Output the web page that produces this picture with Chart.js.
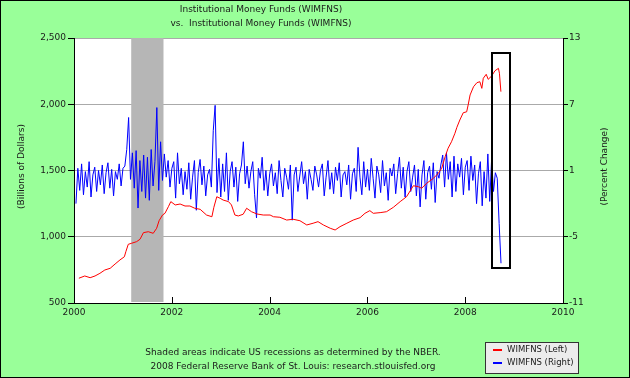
<!DOCTYPE html>
<html>
<head>
<meta charset="utf-8">
<script src="https://cdn.jsdelivr.net/npm/chart.js@4/dist/chart.umd.min.js"></script>
<style>
  html, body { margin: 0; padding: 0; background: #99ff99; }
  canvas { display: block; }
</style>
</head>
<body>
<canvas id="chart" width="630" height="378"></canvas>
<script>
// level of institutional money funds, billions of dollars (left axis)
const redYears = [2000.10, 2000.22, 2000.33, 2000.43, 2000.53, 2000.63, 2000.74, 2000.84, 2000.94,
  2001.03, 2001.06, 2001.11, 2001.18, 2001.28, 2001.35, 2001.42, 2001.52, 2001.62, 2001.69, 2001.74,
  2001.81, 2001.86, 2001.93, 2001.98, 2002.07, 2002.17, 2002.27, 2002.37, 2002.47, 2002.58, 2002.71,
  2002.82, 2002.86, 2002.92, 2002.99, 2003.05, 2003.16, 2003.22, 2003.29, 2003.36, 2003.46, 2003.53,
  2003.63, 2003.74, 2003.87, 2004.01, 2004.08, 2004.21, 2004.35, 2004.48, 2004.62, 2004.76, 2004.89,
  2004.99, 2005.10, 2005.24, 2005.34, 2005.44, 2005.58, 2005.71, 2005.85, 2005.95, 2006.05, 2006.12,
  2006.26, 2006.39, 2006.53, 2006.67, 2006.80, 2006.94, 2007.04, 2007.11, 2007.21, 2007.35, 2007.45,
  2007.52, 2007.59, 2007.65, 2007.72, 2007.79, 2007.83, 2007.89, 2007.96, 2008.03, 2008.06, 2008.10,
  2008.17, 2008.24, 2008.30, 2008.34, 2008.37, 2008.43, 2008.47, 2008.54, 2008.61, 2008.68, 2008.70,
  2008.73];
const redValues = [687, 704, 691, 704, 724, 749, 762, 794, 825,
  849, 887, 943, 951, 963, 981, 1031, 1038, 1026, 1064, 1121,
  1164, 1177, 1227, 1265, 1240, 1247, 1232, 1232, 1215, 1207, 1164,
  1151, 1222, 1302, 1290, 1277, 1265, 1240, 1164, 1157, 1170, 1215,
  1189, 1172, 1164, 1164, 1151, 1147, 1126, 1132, 1121, 1089, 1102,
  1114, 1089, 1064, 1051, 1076, 1102, 1126, 1144, 1177, 1197, 1177,
  1182, 1189, 1222, 1265, 1302, 1385, 1378, 1366, 1403, 1441, 1479,
  1517, 1604, 1668, 1717, 1781, 1826, 1881, 1936, 1943, 1994, 2070,
  2132, 2163, 2170, 2120, 2196, 2226, 2188, 2213, 2253, 2271, 2234,
  2095];

// percent change (right axis), one value every two weeks from blueStart
const blueStart = 2000.04;
const blueStep = 1 / 26;
const blueValues = [
  -2.0, 1.2, -0.8, 1.6, -1.2, 0.9, -0.5, 1.8, -1.4, 0.6, 1.3, -0.9, 1.0,
  -0.3, 1.5, -1.1, 0.8, 1.7, -0.6, 1.1, -1.3, 0.9, 0.2, 1.6, -0.4, 1.2,
  1.4, 2.9, 5.8, 0.2, 2.6, -0.6, 2.8, -2.4, 1.9, -0.9, 2.4, -1.5, 2.2,
  -1.7, 2.9, -0.4, 1.8, 6.7, -0.8, 3.6, 0.1, 2.5, 0.4, 1.9, -0.5, 1.2,
  1.8, -1.5, 2.6, -0.2, 1.2, -1.2, 0.9, -0.7, 1.7, -1.6, 0.4, 1.9, -2.6,
  0.8, 2.0, -0.3, 1.4, -1.3, 0.6, 1.1, -0.5, 4.6, 6.9, -1.0, 2.1, -1.4,
  1.6, -0.9, 2.6, -1.7, 0.9, 1.8, -0.5, 1.3, -1.8, 0.7, 1.5, 3.6, -0.2,
  1.4, -0.6, 0.9, 1.8, -1.2, -3.3, 1.2, 0.3, 2.2, -0.8, 1.0, -1.3, 0.7,
  1.6, -0.4, 0.8, -1.1, 1.9, 0.1, -1.4, 1.2, 0.4, -0.7, 1.5, -3.5, 0.6,
  1.3, -0.9, 0.5, 1.8, -0.2, 0.9, -1.6, 1.1, 0.2, -0.8, 1.4, 0.6, -0.5,
  1.0, 1.6, -1.3, 0.4, 1.9, -0.7, 0.8, -1.1, 1.3, 0.1, 1.7, -1.4, 0.6,
  0.9, -0.3, 1.5, -1.6, 0.7, 1.2, -0.9, 3.1, 0.4, -1.2, 1.8, -0.5, 1.1,
  -0.8, 2.1, 0.3, -1.5, 1.4, 0.6, -1.0, 1.9, -0.4, 0.8, -1.7, 1.2, 0.5,
  1.6, -1.1, 0.7, 2.2, -0.6, 1.3, -1.4, 0.9, 1.8, -0.9, 0.4, 1.5, -1.3,
  1.1, -2.3, 0.6, 1.9, -1.6, 0.8, 1.4, -0.7, 1.7, -1.9, 0.9, 0.3, 1.5,
  2.4, -0.5, 2.6, 0.2, 1.8, -1.4, 2.3, -0.9, 1.6, 0.4, 2.1, -1.2, 1.3,
  1.9, -0.8, 2.3, 0.1, 1.5, -2.0, 0.7, 1.8, -2.2, 0.9, -1.5, 2.5, -1.8,
  2.0, -0.9, 0.8, 0.3, -3.8, -7.4
];

const xTicks = [2000, 2002, 2004, 2006, 2008, 2010];
const leftTicks = [500, 1000, 1500, 2000, 2500];
const rightTicks = [-11, -5, 1, 7, 13];

const recession = [2001.17, 2001.83];
// highlighted box (x in years, y in left-axis units)
const boxX = [2008.555, 2008.92];
const boxY = [764, 2385];

const titleLines = ['Institutional Money Funds (WIMFNS)', 'vs.  Institutional Money Funds (WIMFNS)'];
const footerLines = ['Shaded areas indicate US recessions as determined by the NBER.',
  '2008 Federal Reserve Bank of St. Louis: research.stlouisfed.org'];
const leftTitle = '(Billions of Dollars)';
const rightTitle = '(Percent Change)';
const legendLabels = ['WIMFNS (Left)', 'WIMFNS (Right)'];

const FONT = '9px "DejaVu Sans"';
const TEXT = '#1a1a1a';

const redPoints = redYears.map((x, i) => ({ x: x, y: redValues[i] }));
const bluePoints = blueValues.map((v, i) => ({ x: blueStart + i * blueStep, y: v }));

const fredDecor = {
  id: 'fredDecor',
  beforeDraw(chart) {
    const { ctx, chartArea: a } = chart;
    ctx.save();
    ctx.fillStyle = '#99ff99';
    ctx.fillRect(0, 0, chart.width, chart.height);
    ctx.fillStyle = '#ffffff';
    ctx.fillRect(a.left, a.top, a.right - a.left, a.bottom - a.top);
    ctx.restore();
  },
  beforeDatasetsDraw(chart) {
    const { ctx, chartArea: a, scales } = chart;
    const x0 = scales.x.getPixelForValue(recession[0]);
    const x1 = scales.x.getPixelForValue(recession[1]);
    ctx.save();
    ctx.fillStyle = '#b6b6b6';
    ctx.fillRect(x0, a.top, x1 - x0, a.bottom - a.top - 1);
    // inward ticks on the date axis
    ctx.strokeStyle = '#000';
    ctx.lineWidth = 1;
    xTicks.slice(1, -1).forEach(v => {
      const px = Math.round(scales.x.getPixelForValue(v)) + 0.5;
      ctx.beginPath();
      ctx.moveTo(px, a.bottom);
      ctx.lineTo(px, a.bottom - 6);
      ctx.stroke();
    });
    ctx.restore();
  },
  afterDatasetsDraw(chart) {
    const { ctx, scales } = chart;
    const bx0 = scales.x.getPixelForValue(boxX[0]);
    const bx1 = scales.x.getPixelForValue(boxX[1]);
    const by0 = scales.y.getPixelForValue(boxY[1]);
    const by1 = scales.y.getPixelForValue(boxY[0]);
    ctx.save();
    ctx.strokeStyle = '#000';
    ctx.lineWidth = 2;
    ctx.strokeRect(Math.round(bx0), Math.round(by0), Math.round(bx1 - bx0), Math.round(by1 - by0));
    ctx.restore();
  },
  afterDraw(chart) {
    const { ctx, chartArea: a } = chart;
    ctx.save();
    ctx.font = FONT;
    ctx.fillStyle = TEXT;
    ctx.textAlign = 'center';
    ctx.textBaseline = 'middle';
    ctx.fillText(titleLines[0], 261, 10);
    ctx.fillText(titleLines[1], 261, 24);
    ctx.fillText(footerLines[0], 293, 353);
    ctx.fillText(footerLines[1], 293, 367);

    const midY = (a.top + a.bottom) / 2 - 4;
    ctx.save();
    ctx.translate(22, midY);
    ctx.rotate(-Math.PI / 2);
    ctx.fillText(leftTitle, 0, 0);
    ctx.restore();
    ctx.save();
    ctx.translate(605, midY);
    ctx.rotate(-Math.PI / 2);
    ctx.fillText(rightTitle, 0, 0);
    ctx.restore();

    // legend box
    ctx.fillStyle = '#ececec';
    ctx.fillRect(485, 342, 93, 31);
    ctx.strokeStyle = '#333';
    ctx.lineWidth = 1;
    ctx.strokeRect(485.5, 342.5, 93, 31);
    const colors = ['#ff0000', '#0000ff'];
    ctx.font = '8.5px "DejaVu Sans"';
    ctx.textAlign = 'left';
    legendLabels.forEach((lab, i) => {
      const ly = 350 + i * 13;
      ctx.strokeStyle = colors[i];
      ctx.lineWidth = 2;
      ctx.beginPath();
      ctx.moveTo(493, ly);
      ctx.lineTo(502, ly);
      ctx.stroke();
      ctx.fillStyle = TEXT;
      ctx.fillText(lab, 507, ly);
    });

    // outer frame
    ctx.strokeStyle = '#000';
    ctx.lineWidth = 1;
    ctx.strokeRect(0.5, 0.5, chart.width - 1, chart.height - 1);
    ctx.restore();
  }
};

new Chart(document.getElementById('chart'), {
  type: 'line',
  data: {
    datasets: [
      {
        label: legendLabels[0],
        data: redPoints,
        yAxisID: 'y',
        borderColor: '#ff0000',
        borderWidth: 1,
        pointRadius: 0,
        tension: 0
      },
      {
        label: legendLabels[1],
        data: bluePoints,
        yAxisID: 'y2',
        borderColor: '#0000ff',
        borderWidth: 1,
        pointRadius: 0,
        tension: 0
      }
    ]
  },
  options: {
    responsive: false,
    animation: false,
    devicePixelRatio: 1,
    layout: { padding: { top: 38, bottom: 55, left: 0, right: 0 } },
    plugins: {
      legend: { display: false },
      title: { display: false },
      tooltip: { enabled: false }
    },
    scales: {
      x: {
        type: 'linear',
        min: 2000,
        max: 2010,
        afterBuildTicks: s => { s.ticks = xTicks.map(v => ({ value: v })); },
        afterFit: s => { s.height = 20; },
        ticks: {
          font: { family: 'DejaVu Sans', size: 9 },
          color: TEXT,
          padding: 4,
          maxRotation: 0,
          callback: v => String(v)
        },
        grid: { drawOnChartArea: false, drawTicks: false },
        border: { color: '#000' }
      },
      y: {
        position: 'left',
        min: 500,
        max: 2500,
        afterBuildTicks: s => { s.ticks = leftTicks.map(v => ({ value: v })); },
        afterFit: s => { s.width = 74; },
        ticks: {
          font: { family: 'DejaVu Sans', size: 9 },
          color: TEXT,
          padding: 2,
          callback: v => v.toLocaleString('en-US')
        },
        grid: {
          color: c => (c.tick && c.tick.value === 500) ? 'rgba(0,0,0,0)' : '#aaaaaa',
          tickColor: '#000',
          tickLength: 6
        },
        border: { color: '#000' }
      },
      y2: {
        position: 'right',
        min: -11,
        max: 13,
        afterBuildTicks: s => { s.ticks = rightTicks.map(v => ({ value: v })); },
        afterFit: s => { s.width = 67; },
        ticks: {
          font: { family: 'DejaVu Sans', size: 9 },
          color: TEXT,
          padding: 1,
          callback: v => String(v)
        },
        grid: { drawOnChartArea: false, tickColor: '#000', tickLength: 5 },
        border: { color: '#000' }
      }
    }
  },
  plugins: [fredDecor]
});
</script>
</body>
</html>
